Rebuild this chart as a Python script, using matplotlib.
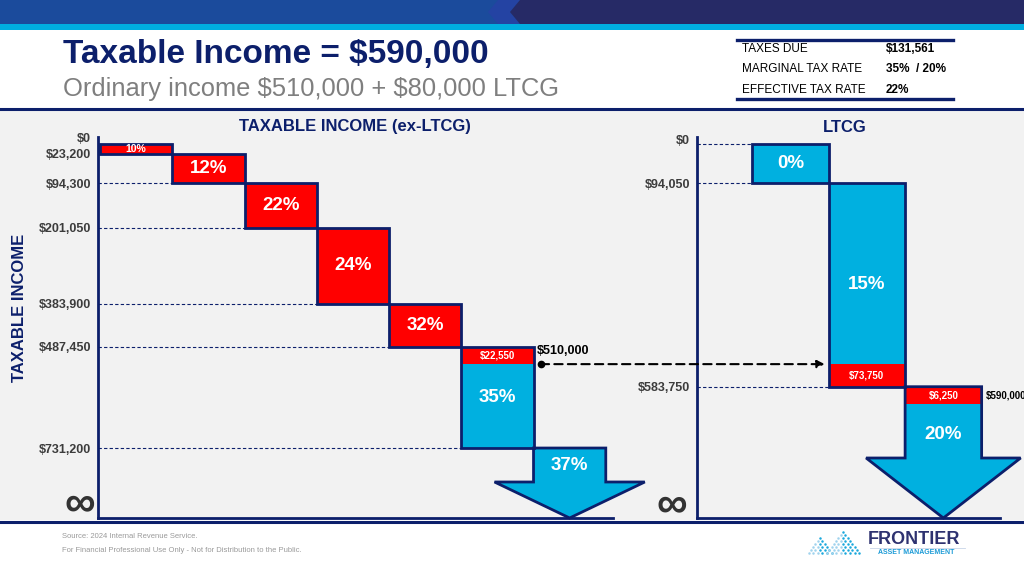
import numpy as np
import matplotlib
matplotlib.use('Agg')
import matplotlib.pyplot as plt
import matplotlib.transforms as mtransforms
from matplotlib.patches import Rectangle, Polygon, ConnectionPatch

plt.rcParams['font.family'] = ['Liberation Sans', 'DejaVu Sans']

NAVY = '#0c1f6b'
RED = '#ff0000'
BLUE = '#00b0e0'
TICK_GRAY = '#3c3c3c'

# ---- data ----
ordinary_income = 510000
ltcg_income = 80000
total_income = ordinary_income + ltcg_income

ord_rates = ['10%', '12%', '22%', '24%', '32%', '35%', '37%']
ord_edges = [0, 23200, 94300, 201050, 383900, 487450, 731200]

ltcg_rates = ['0%', '15%', '20%']
ltcg_edges = [0, 94050, 583750]

summary_labels = ['TAXES DUE', 'MARGINAL TAX RATE', 'EFFECTIVE TAX RATE']
summary_values = ['$131,561', '35%  / 20%', '22%']

# ---- display settings ----
Y_TOP, Y_BOT = -16800, 899500     # value range shown on both panels
MIN_BAND = 42000                  # small bands are drawn at least this tall

W, H = 1024, 572
fig = plt.figure(figsize=(W / 100, H / 100), dpi=100)

# background / slide decoration, in pixel coordinates
bg = fig.add_axes([0, 0, 1, 1])
bg.set_xlim(0, W)
bg.set_ylim(H, 0)
bg.axis('off')

bg.add_patch(Rectangle((0, 0), W, 24, color='#1b4b9c', lw=0))
bg.add_patch(Polygon([(498, 0), (520, 0), (510, 12), (520, 24), (498, 24), (488, 12)],
                     color='#2443a3', lw=0))
bg.add_patch(Polygon([(520, 0), (W, 0), (W, 24), (520, 24), (510, 12)], color='#262a66', lw=0))
bg.add_patch(Rectangle((0, 24), W, 6, color='#00aee0', lw=0))
bg.add_patch(Rectangle((0, 110), W, 410, color='#f2f2f2', lw=0))
bg.plot([0, W], [108.5, 108.5], color=NAVY, lw=2.2)
bg.plot([0, W], [521.5, 521.5], color=NAVY, lw=2.2)

bg.text(63, 63, 'Taxable Income = $590,000', fontsize=24, fontweight='bold',
        color=NAVY, va='baseline')
bg.text(63, 96, r'Ordinary income \$510,000 + \$80,000 LTCG', fontsize=18.4,
        color='#7f7f7f', va='baseline')

# summary box
bg.plot([737, 953], [39.5, 39.5], color=NAVY, lw=2.4)
bg.plot([737, 953], [98.5, 98.5], color=NAVY, lw=2.4)
for k, (lab, val) in enumerate(zip(summary_labels, summary_values)):
    yy = 49 + 20.5 * k
    bg.text(742, yy, lab, fontsize=8.5, va='center', color='black')
    bg.text(886, yy, val, fontsize=8.5, va='center', fontweight='bold', color='black')

bg.text(355, 127, 'TAXABLE INCOME (ex-LTCG)', fontsize=12, fontweight='bold',
        color=NAVY, ha='center', va='center')
bg.text(845, 127, 'LTCG', fontsize=12, fontweight='bold', color=NAVY,
        ha='center', va='center')
bg.text(20, 308, 'TAXABLE INCOME', fontsize=12, fontweight='bold', color=NAVY,
        rotation=90, ha='center', va='center')

# footer
bg.text(62, 537, 'Source: 2024 Internal Revenue Service.', fontsize=5.5,
        color='#9a9a9a', va='center')
bg.text(62, 550, 'For Financial Professional Use Only - Not for Distribution to the Public.',
        fontsize=5.5, color='#9a9a9a', va='center')

# logo
bg.text(868, 540, 'FRONTIER', fontsize=13, fontweight='bold', color='#2e3270', va='center')
bg.plot([870, 965], [547.5, 547.5], color='#c8d4e8', lw=0.6)
bg.text(878, 553, 'ASSET MANAGEMENT', fontsize=5, fontweight='bold', color='#1a9ad6',
        va='center')
for px, py, rows in [(820, 538, 6), (843, 532, 8)]:
    for r in range(rows):
        for c in range(-r, r + 1):
            if (c + r) % 2:
                continue
            col = '#1aa8dc' if c >= 0 else '#9fd3ee'
            bg.scatter(px + c * 2.3, py + r * 3.0, s=3.2, color=col, lw=0)


def make_panel(x0, x1, xlim, edges, zero_shift):
    ax = fig.add_axes([x0 / W, 1 - 518 / H, (x1 - x0) / W, (518 - 137) / H])
    ax.set_facecolor('none')
    ax.set_xlim(*xlim)
    ax.set_ylim(Y_BOT, Y_TOP)
    for s in ['top', 'right']:
        ax.spines[s].set_visible(False)
    for s in ['left', 'bottom']:
        ax.spines[s].set_color(NAVY)
        ax.spines[s].set_linewidth(2)
    ax.set_xticks([])
    ax.set_yticks(edges)
    ax.set_yticklabels(['${:,}'.format(v) for v in edges], fontsize=9,
                       fontweight='bold', color=TICK_GRAY)
    ax.tick_params(axis='y', length=0, pad=5)
    # the $0 label sits a little above the top edge
    lbl = ax.get_yticklabels()[0]
    lbl.set_transform(lbl.get_transform() +
                      mtransforms.ScaledTranslation(0, zero_shift / 72, fig.dpi_scale_trans))
    return ax


def box(ax, col, top, bottom, fill, band=None):
    ax.bar(col, bottom - top, bottom=top, width=1, align='edge', color=fill, lw=0, zorder=2)
    if band is not None:
        b0, b1, text = band
        ax.bar(col, b1 - b0, bottom=b0, width=1, align='edge', color=RED, lw=0, zorder=3)
        ax.text(col + 0.5, (b0 + b1) / 2, text, fontsize=7, fontweight='bold',
                color='white', ha='center', va='center', zorder=5)
    ax.bar(col, bottom - top, bottom=top, width=1, align='edge', facecolor='none',
           edgecolor=NAVY, lw=2, zorder=4)


def down_arrow(ax, col, top, base, half, band=None):
    xs = [col, col + 1, col + 1, col + 0.5 + half, col + 0.5, col + 0.5 - half, col]
    ys = [top, top, base, base, Y_BOT, base, base]
    pts = list(zip(xs, ys))
    ax.add_patch(Polygon(pts, closed=True, facecolor=BLUE, lw=0, zorder=2, clip_on=False))
    if band is not None:
        b0, b1, text = band
        ax.bar(col, b1 - b0, bottom=b0, width=1, align='edge', color=RED, lw=0, zorder=3)
        ax.text(col + 0.5, (b0 + b1) / 2, text, fontsize=7, fontweight='bold',
                color='white', ha='center', va='center', zorder=5)
    ax.add_patch(Polygon(pts, closed=True, facecolor='none', edgecolor=NAVY, lw=2,
                         zorder=4, clip_on=False))


# ---- ordinary income panel ----
axL = make_panel(98, 613, (-0.028, 7.10), ord_edges, 4.5)
last = len(ord_edges) - 1
band_amt = ordinary_income - ord_edges[last - 1]
band_end = ord_edges[last - 1] + max(band_amt, MIN_BAND)

for i in range(last):
    top, bottom = ord_edges[i], ord_edges[i + 1]
    if i < last - 1:
        box(axL, i, top, bottom, RED)
    else:
        box(axL, i, top, bottom, BLUE, band=(top, band_end, '${:,}'.format(band_amt)))
    size = 7.5 if i == 0 else 13.5
    axL.text(i + 0.5, (top + bottom) / 2, ord_rates[i], fontsize=size, fontweight='bold',
             color='white', ha='center', va='center', zorder=5)
    if i > 0:
        axL.plot([axL.get_xlim()[0], i], [bottom, bottom], color=NAVY, lw=0.8,
                 ls=(0, (3, 2)), zorder=1)

head_base_L = 812900
down_arrow(axL, last, ord_edges[last], head_base_L, 1.04)
axL.text(last + 0.5, (ord_edges[last] + head_base_L) / 2, ord_rates[last], fontsize=13.5,
         fontweight='bold', color='white', ha='center', va='center', zorder=5)
axL.text(-0.035, 0.036, '\u221e', transform=axL.transAxes, fontsize=31, fontweight='bold',
         color='#333333', ha='center', va='center')

# ---- LTCG panel ----
axR = make_panel(697, 1000, (-0.72, 3.24), ltcg_edges, 3)
ltcg_band1 = ltcg_edges[2] - ordinary_income
ltcg_band2 = total_income - ltcg_edges[2]
band2_end = ltcg_edges[2] + max(ltcg_band2, MIN_BAND)

box(axR, 0, ltcg_edges[0], ltcg_edges[1], BLUE)
box(axR, 1, ltcg_edges[1], ltcg_edges[2], BLUE,
    band=(band_end, ltcg_edges[2], '${:,}'.format(ltcg_band1)))
for i in range(2):
    axR.text(i + 0.5, (ltcg_edges[i] + ltcg_edges[i + 1]) / 2, ltcg_rates[i], fontsize=13.5,
             fontweight='bold', color='white', ha='center', va='center', zorder=5)
guide_to = [0, 0, 1]
for v, c in zip(ltcg_edges, guide_to):
    axR.plot([axR.get_xlim()[0], c], [v, v], color=NAVY, lw=0.8, ls=(0, (3, 2)), zorder=1)

head_base_R = 755200
down_arrow(axR, 2, ltcg_edges[2], head_base_R, 1.01,
           band=(ltcg_edges[2], band2_end, '${:,}'.format(ltcg_band2)))
axR.text(2.5, (band2_end + head_base_R) / 2 + 8000, ltcg_rates[2], fontsize=13.5,
         fontweight='bold', color='white', ha='center', va='center', zorder=5)
axR.text(3.05, (ltcg_edges[2] + band2_end) / 2, '${:,}'.format(total_income), fontsize=7,
         fontweight='bold', color='black', va='center', clip_on=False)
axR.text(-0.083, 0.033, '\u221e', transform=axR.transAxes, fontsize=31, fontweight='bold',
         color='#333333', ha='center', va='center')

# ---- ordinary income -> LTCG link ----
axL.plot([6.1], [band_end], 'o', color='black', ms=4.5, clip_on=False, zorder=6)
axL.annotate('${:,}'.format(ordinary_income), xy=(6.1, band_end), xytext=(-3, 5),
             textcoords='offset points', fontsize=9, fontweight='bold', color='black',
             va='bottom', ha='left', annotation_clip=False)
link = ConnectionPatch(xyA=(6.1, band_end), coordsA=axL.transData,
                       xyB=(0.95, band_end), coordsB=axR.transData,
                       arrowstyle='-|>', ls=(0, (4, 2.5)), lw=1.5, color='black',
                       mutation_scale=11, zorder=6)
fig.add_artist(link)

fig.savefig('out.png', dpi=100)
